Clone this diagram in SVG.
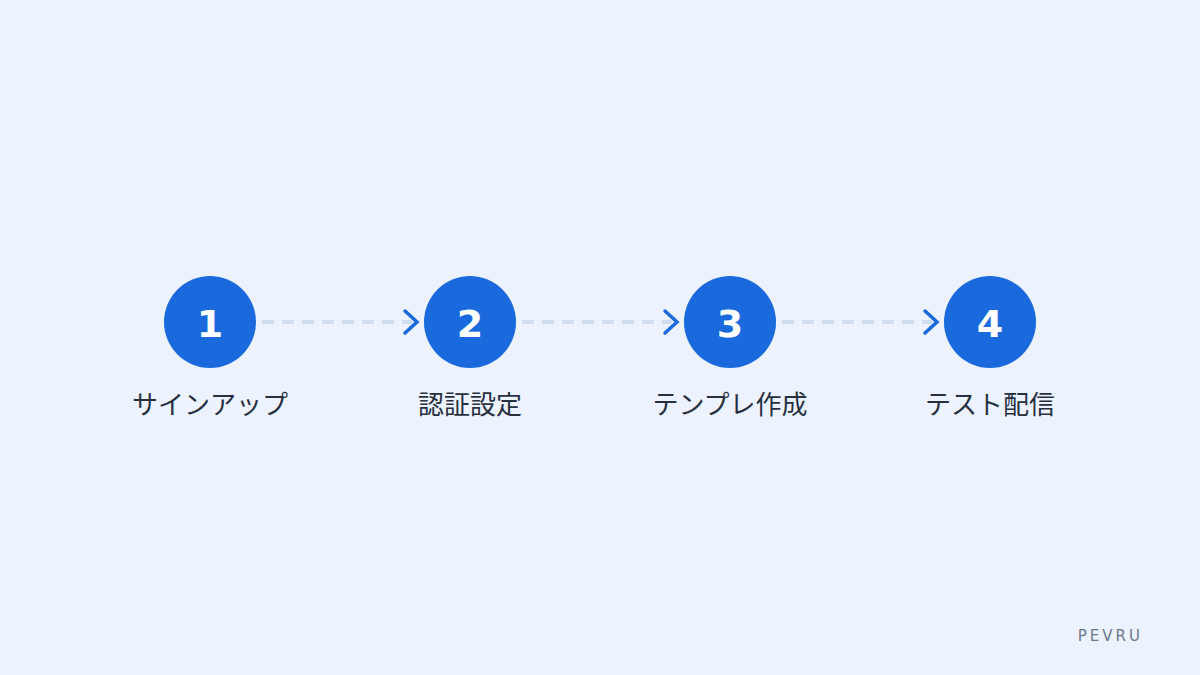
<svg xmlns="http://www.w3.org/2000/svg" width="1200" height="675" viewBox="0 0 1200 675">
<style>
.bg{fill:#edf3fe}
.dot{fill:#1a6ade}
.num{font-family:"DejaVu Sans",sans-serif;font-weight:bold;font-size:38px;fill:#ffffff;text-anchor:middle}
.lbl{font-family:"Noto Sans CJK JP","Noto Sans",sans-serif;font-size:26px;fill:#27303f;text-anchor:middle}
.dash{stroke:#cfdcf2;stroke-width:4;stroke-dasharray:12 8;fill:none}
.chev{stroke:#1a6ade;stroke-width:3.5;fill:none;stroke-linecap:round;stroke-linejoin:miter}
.brand{font-family:"DejaVu Sans",sans-serif;font-size:15px;fill:#6b788c;letter-spacing:3px;text-anchor:end}
</style>
<rect class="bg" x="0" y="0" width="1200" height="675"/>
<g id="connectors">
<line class="dash" x1="262" y1="322" x2="412" y2="322"/>
<polyline class="chev" points="405,311 417,322 405,333"/>
<line class="dash" x1="522" y1="322" x2="672" y2="322"/>
<polyline class="chev" points="665,311 677,322 665,333"/>
<line class="dash" x1="782" y1="322" x2="932" y2="322"/>
<polyline class="chev" points="925,311 937,322 925,333"/>
</g>
<g id="step1"><circle class="dot" cx="210" cy="322" r="46"/><text class="num" x="210" y="337">1</text><text class="lbl" x="210" y="414">サインアップ</text></g>
<g id="step2"><circle class="dot" cx="470" cy="322" r="46"/><text class="num" x="470" y="337">2</text><text class="lbl" x="470" y="414">認証設定</text></g>
<g id="step3"><circle class="dot" cx="730" cy="322" r="46"/><text class="num" x="730" y="337">3</text><text class="lbl" x="730" y="414">テンプレ作成</text></g>
<g id="step4"><circle class="dot" cx="990" cy="322" r="46"/><text class="num" x="990" y="337">4</text><text class="lbl" x="990" y="414">テスト配信</text></g>
<text class="brand" x="1143" y="641">PEVRU</text>
</svg>
